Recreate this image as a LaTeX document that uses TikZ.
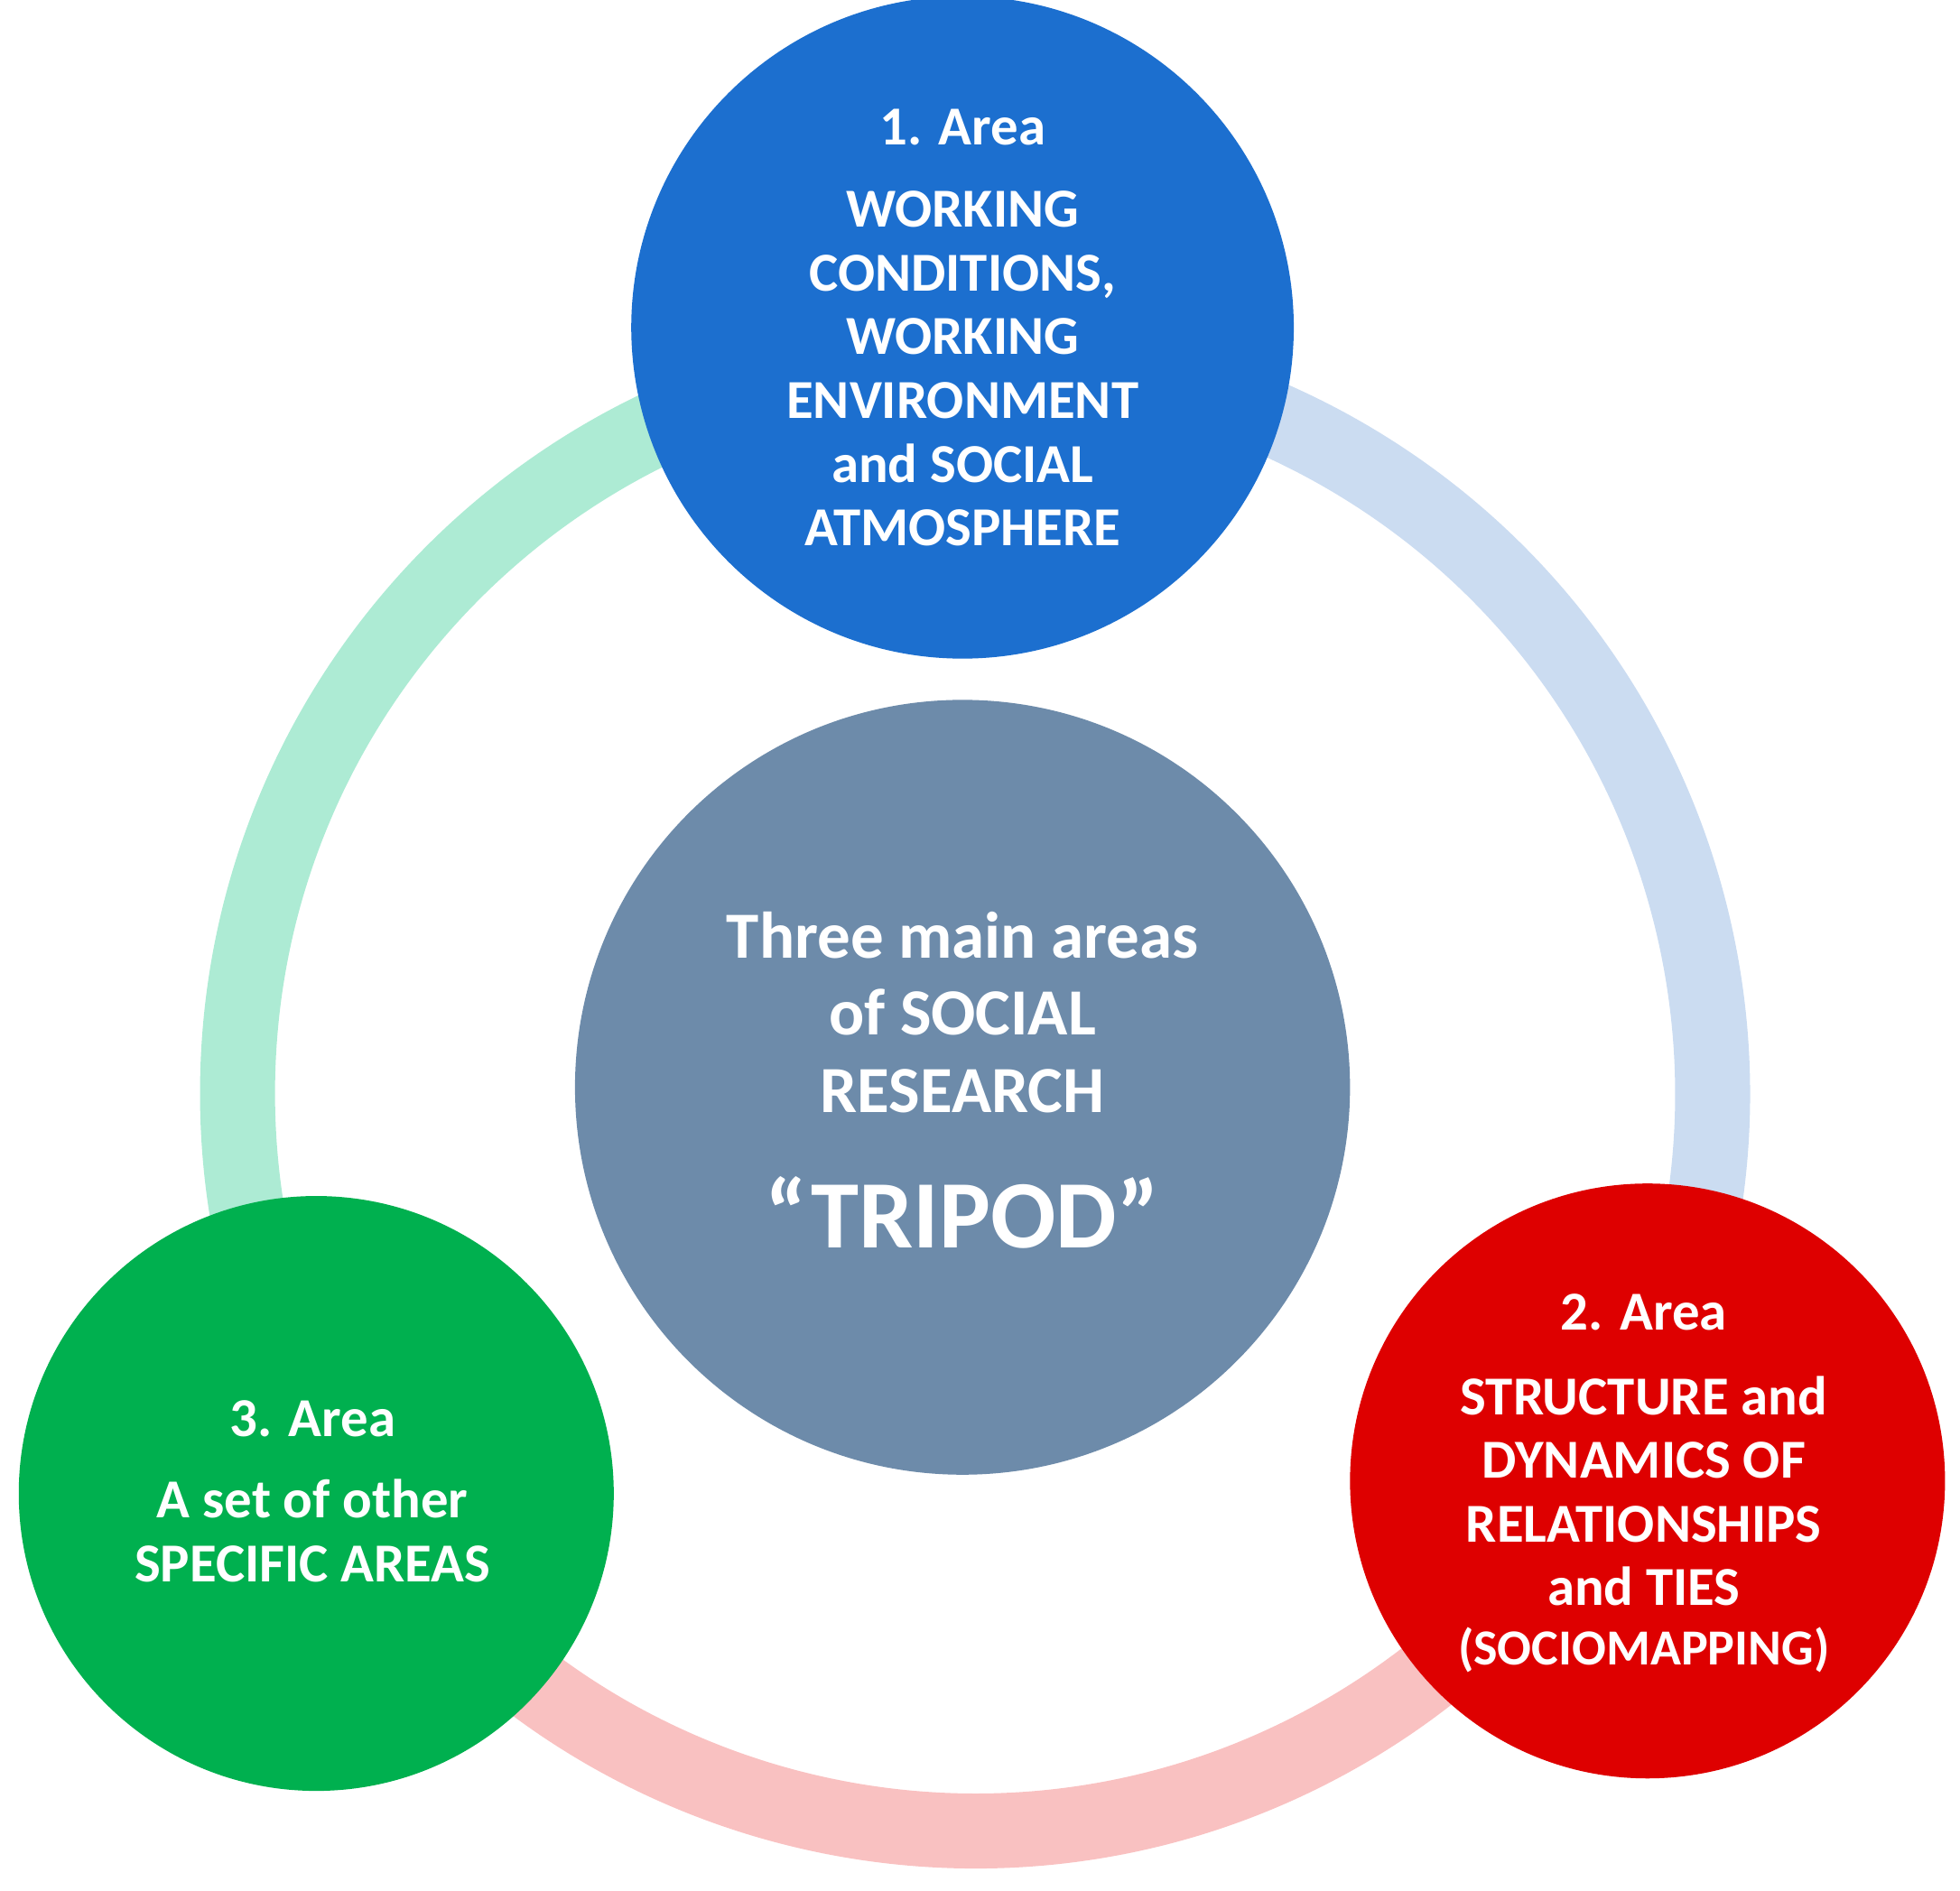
\documentclass[tikz,border=0pt]{standalone}
\usepackage{fontspec}
\setmainfont{Carlito}
\usetikzlibrary{positioning}
\definecolor{areablue}{HTML}{1C6FCF}
\definecolor{areared}{HTML}{DE0000}
\definecolor{areagreen}{HTML}{00B04F}
\definecolor{tripod}{HTML}{6D8BAA}
\definecolor{ringgreen}{HTML}{ADEBD4}
\definecolor{ringblue}{HTML}{CBDCF1}
\definecolor{ringpink}{HTML}{F9C1C1}
\begin{document}
\begin{tikzpicture}[thick]
    \tikzstyle{area}=[circle,text=white,font=\bfseries\fontsize{12.5}{14.5}\selectfont,align=center,inner sep=0pt]
    \tikzstyle{ring}=[line width=6mm]
    \useasboundingbox (0,0) rectangle (15.68,-15.13);
    \coordinate (M) at (7.8,-8.75);
    % ring
    \draw[ring,ringgreen] (M) ++(90:5.9) arc (90:210:5.9);
    \draw[ring,ringpink] (M) ++(210:5.9) arc (210:330:5.9);
    \draw[ring,ringblue] (M) ++(330:5.9) arc (330:450:5.9);

    \node[area,fill=tripod,minimum size=6.2cm] (T) at (7.7,-8.7) {};
    \node[area,fill=areablue,minimum size=5.3cm] (A) at (7.7,-2.62) {};
    \node[area,fill=areared,minimum size=4.76cm] (B) at (13.18,-11.85) {};
    \node[area,fill=areagreen,minimum size=4.76cm] (C) at (2.53,-11.95) {};

    \node[area,font=\bfseries\fontsize{15}{17.5}\selectfont] at (7.7,-8.1)
        {Three main areas\\of SOCIAL\\RESEARCH};
    \node[area,font=\bfseries\fontsize{22}{24}\selectfont] at (7.7,-9.7) {“TRIPOD”};
    \node[area] at (7.7,-1.02) {1. Area};
    \node[area] at (7.7,-2.95) {WORKING\\CONDITIONS,\\WORKING\\ENVIRONMENT\\and SOCIAL\\ATMOSPHERE};
    \node[area] at (13.15,-10.5) {2. Area};
    \node[area] at (13.15,-11.93) {STRUCTURE and\\DYNAMICS OF\\RELATIONSHIPS\\and TIES};
    \node[area,font=\bfseries\fontsize{11.5}{13}\selectfont] at (13.15,-13.2) {(SOCIOMAPPING)};
    \node[area] at (2.5,-11.35) {3. Area};
    \node[area] at (2.5,-12.25) {A set of other\\SPECIFIC AREAS};
\end{tikzpicture}
\end{document}
